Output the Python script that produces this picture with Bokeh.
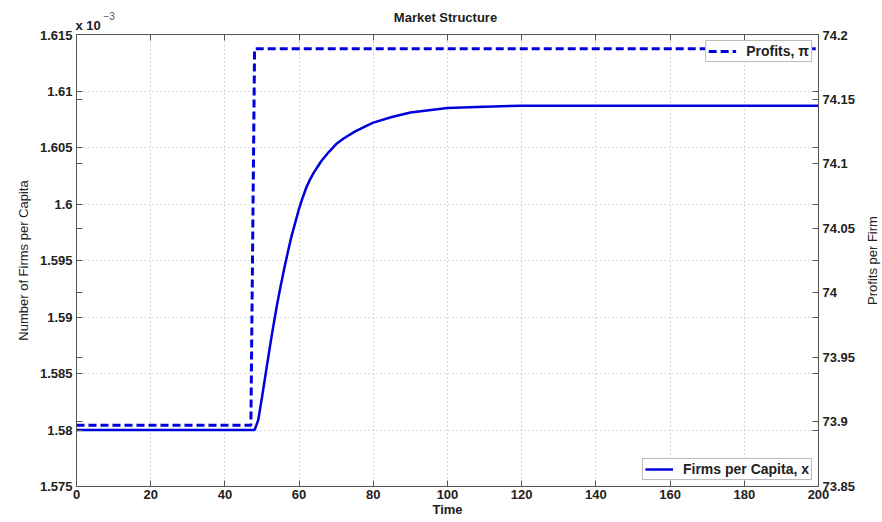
import math
from bokeh.plotting import figure
from bokeh.layouts import column, row
from bokeh.models import Range1d, LinearAxis, FixedTicker, Legend, LegendItem, Label
from bokeh.embed import file_html
from bokeh.resources import INLINE

# ---- data ----
time_firms = [0, 48, 49, 50, 51, 52, 53, 54, 55, 56, 57, 58, 59, 60, 61, 62, 63, 64,
              65, 66, 68, 70, 72, 75, 78, 80, 85, 90, 95, 100, 110, 120, 140, 160,
              180, 200]
firms_per_capita = [1.5800, 1.5800, 1.5809, 1.5829, 1.5850, 1.5871, 1.5891, 1.5910,
                    1.5927, 1.5943, 1.5958, 1.5972, 1.5984, 1.5996, 1.6006, 1.6015,
                    1.6022, 1.6028, 1.6033, 1.6038, 1.6046, 1.6053, 1.6058, 1.6064,
                    1.6069, 1.6072, 1.6077, 1.6081, 1.6083, 1.6085, 1.6086, 1.6087,
                    1.6087, 1.6087, 1.6087, 1.6087]

time_profits = [0, 47, 48, 200]
profits = [73.8975, 73.8975, 74.189, 74.189]

x_ticks = [0, 20, 40, 60, 80, 100, 120, 140, 160, 180, 200]
left_ticks = [1.575, 1.58, 1.585, 1.59, 1.595, 1.6, 1.605, 1.61, 1.615]
left_labels = ["1.575", "1.58", "1.585", "1.59", "1.595", "1.6", "1.605", "1.61", "1.615"]
right_ticks = [73.85, 73.9, 73.95, 74.0, 74.05, 74.1, 74.15, 74.2]
right_labels = ["73.85", "73.9", "73.95", "74", "74.05", "74.1", "74.15", "74.2"]

title_text = "Market Structure"
x_label = "Time"
left_label = "Number of Firms per Capita"
right_label = "Profits per Firm"
exp_base, exp_power = "x 10", "\u22123"

L0, L1 = 1.575, 1.615
R0, R1 = 73.85, 74.2

FONT = "Liberation Sans"
BLUE = "#0000dd"
AX = "#555555"
TXT = "#222222"

HEAD_H = 30
MAIN_W, MAIN_H = 866, 522 - HEAD_H
SIDE_W = 16
TOP_B, BOT_B = 1, 36


def right_to_left(v):
    return L0 + (v - R0) / (R1 - R0) * (L1 - L0)


def left_to_right(v):
    return R0 + (v - L0) / (L1 - L0) * (R1 - R0)


def bare(fig):
    fig.outline_line_color = None
    fig.background_fill_color = "white"
    fig.border_fill_color = "white"
    fig.xgrid.visible = False
    fig.ygrid.visible = False
    return fig


# ---------------- header strip: title and axis exponent ----------------
head = bare(figure(width=882, height=HEAD_H, output_backend="svg", toolbar_location=None,
                   x_range=Range1d(0, 882), y_range=Range1d(0, HEAD_H),
                   x_axis_location=None, y_axis_location=None,
                   min_border_left=0, min_border_right=0, min_border_top=0,
                   min_border_bottom=0))
head.add_layout(Label(x=445, y=HEAD_H - 17, text=title_text, text_align="center",
                      text_baseline="middle", text_font=FONT, text_font_size="13px",
                      text_font_style="bold", text_color=TXT))
head.add_layout(Label(x=75, y=HEAD_H - 25, text=exp_base, text_align="left",
                      text_baseline="alphabetic", text_font=FONT, text_font_size="13px",
                      text_font_style="bold", text_color=TXT))
head.add_layout(Label(x=103, y=HEAD_H - 15, text=exp_power, text_align="left",
                      text_baseline="alphabetic", text_font=FONT, text_font_size="10px",
                      text_color="#555555"))

# ---------------- main plot ----------------
p = figure(width=MAIN_W, height=MAIN_H, output_backend="svg", toolbar_location=None,
           x_range=Range1d(0, 200), y_range=Range1d(L0, L1),
           min_border_left=76, min_border_right=MAIN_W - 818, min_border_top=TOP_B,
           min_border_bottom=BOT_B)
p.extra_y_ranges = {"profit": Range1d(R0, R1)}
p.background_fill_color = "white"
p.border_fill_color = "white"
p.outline_line_color = AX
p.outline_line_width = 1


def style_axis(ax, labels=True):
    ax.axis_line_color = AX
    ax.major_tick_line_color = AX
    ax.minor_tick_line_color = AX
    ax.major_tick_in = 6
    ax.major_tick_out = 0
    ax.minor_tick_in = 6
    ax.minor_tick_out = 0
    ax.major_label_text_font = FONT
    ax.major_label_text_font_style = "bold"
    ax.major_label_text_font_size = "13px" if labels else "1px"
    ax.major_label_text_color = TXT if labels else None
    ax.major_label_standoff = 4 if labels else 0
    ax.axis_label_text_font = FONT
    ax.axis_label_text_color = TXT


xa = p.xaxis[0]
xa.ticker = FixedTicker(ticks=x_ticks)
style_axis(xa)
xa.major_label_standoff = 3
xa.axis_label = x_label
xa.axis_label_text_font_size = "13px"
xa.axis_label_text_font_style = "bold"
xa.axis_label_standoff = 0

top = LinearAxis(ticker=FixedTicker(ticks=x_ticks))
style_axis(top, labels=False)
p.add_layout(top, "above")

ya = p.yaxis[0]
ya.ticker = FixedTicker(ticks=left_ticks,
                        minor_ticks=[right_to_left(v) for v in right_ticks])
style_axis(ya)
ya.major_label_overrides = dict(zip(left_ticks, left_labels))
ya.axis_label = left_label
ya.axis_label_text_font_size = "13px"
ya.axis_label_text_font_style = "normal"
ya.axis_label_standoff = 6

ra = LinearAxis(y_range_name="profit",
                ticker=FixedTicker(ticks=right_ticks,
                                   minor_ticks=[left_to_right(v) for v in left_ticks]))
style_axis(ra)
ra.major_label_overrides = dict(zip(right_ticks, right_labels))
p.add_layout(ra, "right")

p.xgrid.grid_line_color = "#b4b4b4"
p.xgrid.grid_line_dash = "1 3"
p.ygrid.grid_line_color = "#b4b4b4"
p.ygrid.grid_line_dash = "1 3"

r_profit = p.line(time_profits, profits, y_range_name="profit", line_color=BLUE,
                  line_width=3, line_dash="8 4")
r_firms = p.line(time_firms, firms_per_capita, line_color=BLUE, line_width=2.5)


def make_legend(item, loc):
    lg = Legend(items=[item], location=loc)
    lg.label_text_font = FONT
    lg.label_text_font_size = "14px"
    lg.label_text_font_style = "bold"
    lg.label_text_color = TXT
    lg.border_line_color = "#777777"
    lg.border_line_width = 1
    lg.background_fill_color = "white"
    lg.background_fill_alpha = 1
    lg.padding = 2
    lg.margin = 6
    lg.spacing = 0
    lg.glyph_width = 28
    lg.glyph_height = 14
    lg.label_height = 14
    lg.label_standoff = 10
    return lg


p.add_layout(make_legend(LegendItem(label="Profits, \u03c0", renderers=[r_profit]), "top_right"))
p.add_layout(make_legend(LegendItem(label="Firms per Capita, x", renderers=[r_firms]), "bottom_right"))

# ---------------- side strip: right axis title (reads bottom-to-top) ----------------
side = bare(figure(width=SIDE_W, height=MAIN_H, output_backend="svg", toolbar_location=None,
                   x_range=Range1d(0, SIDE_W), y_range=Range1d(L0, L1),
                   x_axis_location=None, y_axis_location=None,
                   min_border_left=0, min_border_right=0, min_border_top=4,
                   min_border_bottom=BOT_B))
side.add_layout(Label(x=6, y=(L0 + L1) / 2, text=right_label, angle=math.pi / 2,
                      text_align="center", text_baseline="middle", text_font=FONT,
                      text_font_size="13px", text_color=TXT))

layout = column(head, row(p, side, spacing=0), spacing=0)

open("out.html", "w").write(file_html(layout, INLINE))
